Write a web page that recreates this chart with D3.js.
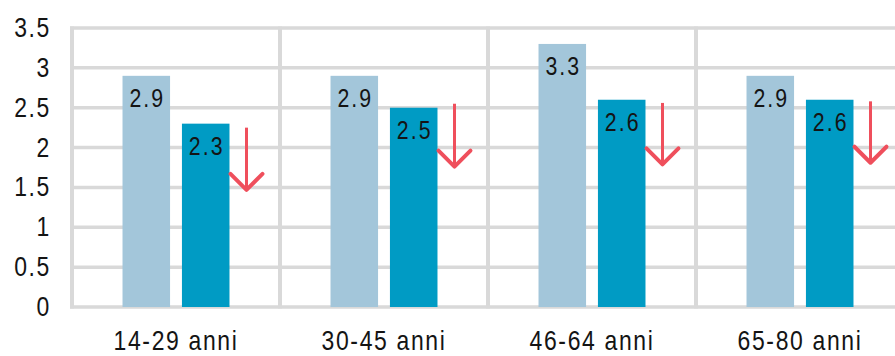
<!DOCTYPE html>
<html lang="it">
<head>
    <meta charset="UTF-8">
    <title>Grafico età</title>
    <script src="https://d3js.org/d3.v7.min.js"></script>
    <style>
        body { margin: 0; background: #fff; }
        svg { display: block; }
        text { font-family: "Liberation Sans", Arial, sans-serif; fill: #141414; }
    </style>
</head>
<body>
<div id="chart"></div>
<script>
    // dati
    const categories = ["14-29 anni", "30-45 anni", "46-64 anni", "65-80 anni"];
    const seriesKeys = ["prima", "dopo"];
    const valuesPrima = [2.9, 2.9, 3.3, 2.9];
    const valuesDopo = [2.3, 2.5, 2.6, 2.6];
    // frecce rosse (inizio / fine, in unità del valore)
    const arrowFrom = [2.25, 2.55, 2.56, 2.58];
    const arrowTo = [1.47, 1.76, 1.79, 1.81];
    const yTicks = [0, 0.5, 1, 1.5, 2, 2.5, 3, 3.5];

    const width = 895, height = 356;
    const colors = { prima: "#a3c6da", dopo: "#009bc4" };
    const narrow = 0.82; // testo stretto come nell'originale

    const svg = d3.select("#chart").append("svg")
        .attr("width", width)
        .attr("height", height);

    const y = d3.scaleLinear().domain([0, 3.5]).range([307, 28]);
    const x = d3.scaleBand().domain(categories).range([72, 904]).padding(0);
    const x1 = d3.scaleBand().domain(seriesKeys).range([0, x.bandwidth()])
        .paddingInner(0.2).paddingOuter(0.85);

    // griglia orizzontale
    svg.append("g").selectAll("line")
        .data(yTicks)
        .join("line")
        .attr("x1", x.range()[0] - 2)
        .attr("x2", x.range()[1])
        .attr("y1", d => y(d))
        .attr("y2", d => y(d))
        .style("stroke", "#d9d9d9")
        .style("stroke-width", 3.5);

    // linee verticali tra le categorie
    svg.append("g").selectAll("line")
        .data(categories)
        .join("line")
        .attr("x1", d => x(d))
        .attr("x2", d => x(d))
        .attr("y1", y(3.5) - 1.5)
        .attr("y2", y(0) + 1.5)
        .style("stroke", "#d9d9d9")
        .style("stroke-width", 4);

    // etichette asse y
    svg.append("g").selectAll("text")
        .data(yTicks)
        .join("text")
        .attr("transform", d => `translate(51,${y(d) + 9}) scale(${narrow},1)`)
        .attr("text-anchor", "end")
        .style("font-size", "28px")
        .style("letter-spacing", "2px")
        .text(d => d);

    // etichette categorie
    svg.append("g").selectAll("text")
        .data(categories)
        .join("text")
        .attr("transform", d => `translate(${x(d) + x.bandwidth() / 2},350) scale(${narrow},1)`)
        .attr("text-anchor", "middle")
        .style("font-size", "28px")
        .style("letter-spacing", "2px")
        .text(d => d);

    const rows = categories.map((c, i) => ({
        cat: c,
        bars: [
            { key: "prima", value: valuesPrima[i] },
            { key: "dopo", value: valuesDopo[i] }
        ],
        from: arrowFrom[i],
        to: arrowTo[i]
    }));

    const groups = svg.append("g").selectAll("g")
        .data(rows)
        .join("g")
        .attr("transform", d => `translate(${x(d.cat)},0)`);

    // barre
    groups.selectAll("rect")
        .data(d => d.bars)
        .join("rect")
        .attr("x", d => x1(d.key))
        .attr("y", d => y(d.value))
        .attr("width", x1.bandwidth())
        .attr("height", d => y(0) - y(d.value))
        .style("fill", d => colors[d.key]);

    // valori sulle barre
    groups.selectAll("text.val")
        .data(d => d.bars)
        .join("text")
        .attr("class", "val")
        .attr("transform", d => `translate(${x1(d.key) + x1.bandwidth() / 2 + 1},${y(d.value) + 31}) scale(${narrow},1)`)
        .attr("text-anchor", "middle")
        .style("font-size", "26px")
        .style("letter-spacing", "2.5px")
        .text(d => d.value.toFixed(1));

    // frecce
    const ax = x1("dopo") + x1.bandwidth() + 17;
    groups.append("line")
        .attr("x1", ax).attr("x2", ax)
        .attr("y1", d => y(d.from))
        .attr("y2", d => y(d.to))
        .style("stroke", "#ef4f5c")
        .style("stroke-width", 3);

    groups.append("path")
        .attr("d", d => `M${ax - 16},${y(d.to) - 16} L${ax},${y(d.to)} L${ax + 16},${y(d.to) - 16}`)
        .style("fill", "none")
        .style("stroke", "#ef4f5c")
        .style("stroke-width", 4)
        .style("stroke-linejoin", "round")
        .style("stroke-linecap", "round");
</script>
</body>
</html>
